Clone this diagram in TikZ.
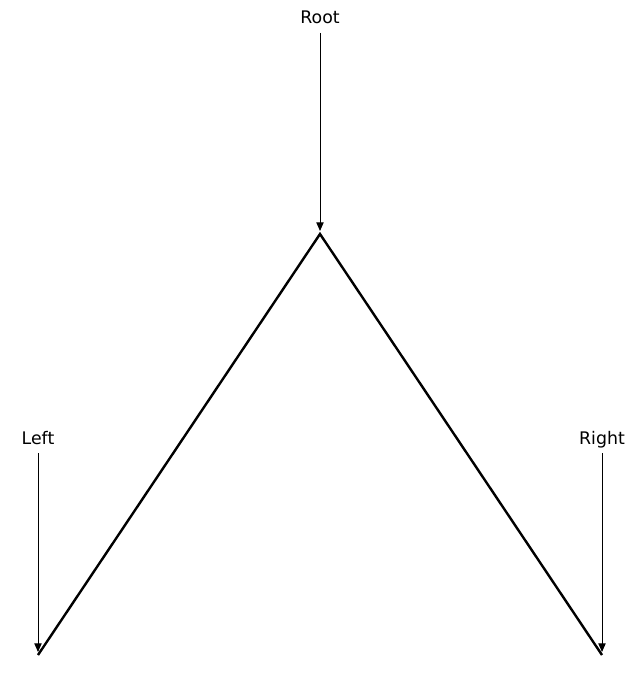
\documentclass[tikz,border=0pt]{standalone}
\usepackage{fontspec}
\setmainfont{DejaVu Sans}
\usetikzlibrary{arrows.meta}
\begin{document}
\begin{tikzpicture}[x=0.75pt,y=-0.75pt,
  lbl/.style={inner sep=0pt,anchor=base,font=\fontsize{13pt}{15pt}\selectfont},
  ptr/.style={line width=0.75pt,-{Triangle[length=6.5pt,width=5.5pt]}},
  edge/.style={line width=1.8pt}]
\useasboundingbox (0,0) rectangle (640,685);
\node[lbl] (root) at (320,24) {Root};
\node[lbl] (left) at (38,444) {Left};
\node[lbl] (right) at (602,444) {Right};
\coordinate (apex) at (320,234);
\coordinate (lend) at (38,655);
\coordinate (rend) at (602,655);
\coordinate (apexp) at (320,231);
\coordinate (lendp) at (38,652);
\coordinate (rendp) at (602,652);
\draw[edge] (lend) -- (apex) -- (rend);
\draw[ptr] (320,33) -- (apexp);
\draw[ptr] (38,453) -- (lendp);
\draw[ptr] (602,453) -- (rendp);
\end{tikzpicture}
\end{document}
